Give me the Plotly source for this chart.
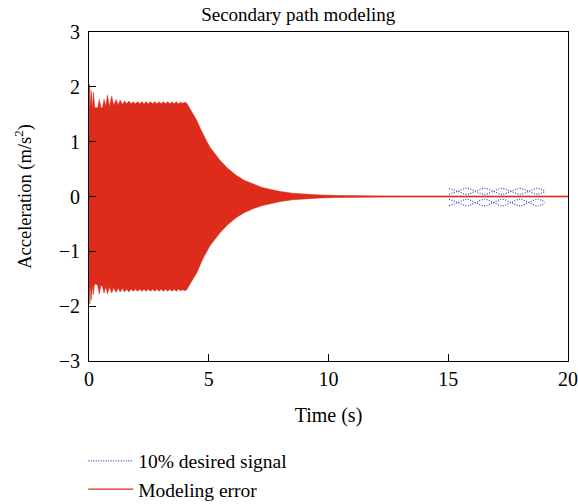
import plotly.graph_objects as go

# ---- Data ----
# Upper envelope of the modeling error (red oscillation)
upper_t = [0.0, 0.02, 0.04, 0.07, 0.10, 0.15, 0.19, 0.24, 0.30, 0.36, 0.43, 0.50, 0.56, 0.63, 0.70,
           0.77, 0.85, 0.95, 1.03, 1.13, 1.22, 1.30, 1.40, 1.48, 1.58, 1.66, 1.76, 1.84, 1.94, 2.02,
           2.12, 2.20, 2.30, 2.38, 2.48, 2.56, 2.66, 2.74, 2.84, 2.92, 3.02, 3.10, 3.20, 3.28, 3.38,
           3.46, 3.56, 3.64, 3.74, 3.82, 3.92, 4.00, 4.08, 4.20, 4.35, 4.50, 4.65, 4.77, 4.90, 5.05,
           5.25, 5.47, 5.80, 6.17, 6.50, 6.87, 7.20, 7.56, 8.00, 8.50, 8.95, 9.50, 10.3, 11.0, 12.0,
           13.0, 20.0]
upper_v = [1.60, 2.05, 1.95, 1.62, 1.93, 1.62, 1.90, 1.62, 1.62, 1.62, 1.77, 1.62, 1.62, 1.77, 1.64,
           1.85, 1.64, 1.83, 1.66, 1.77, 1.67, 1.76, 1.68, 1.74, 1.69, 1.74, 1.69, 1.73, 1.69, 1.73,
           1.69, 1.73, 1.69, 1.73, 1.69, 1.73, 1.69, 1.73, 1.69, 1.73, 1.69, 1.73, 1.69, 1.73, 1.69,
           1.73, 1.69, 1.73, 1.69, 1.72, 1.70, 1.72, 1.70, 1.61, 1.50, 1.39, 1.24, 1.12, 1.02, 0.90,
           0.78, 0.66, 0.51, 0.38, 0.29, 0.22, 0.17, 0.13, 0.09, 0.06, 0.045, 0.03, 0.018, 0.012, 0.006,
           0.004, 0.003]
# Lower envelope
lower_t = [0.0, 0.02, 0.04, 0.07, 0.10, 0.14, 0.18, 0.23, 0.30, 0.36, 0.43, 0.50, 0.56, 0.63, 0.70,
           0.77, 0.85, 0.95, 1.03, 1.13, 1.22, 1.30, 1.40, 1.48, 1.58, 1.66, 1.76, 1.84, 1.94, 2.02,
           2.12, 2.20, 2.30, 2.38, 2.48, 2.56, 2.66, 2.74, 2.84, 2.92, 3.02, 3.10, 3.20, 3.28, 3.38,
           3.46, 3.56, 3.64, 3.74, 3.82, 3.92, 4.00, 4.08, 4.20, 4.35, 4.50, 4.65, 4.77, 4.90, 5.05,
           5.25, 5.47, 5.80, 6.17, 6.50, 6.87, 7.20, 7.56, 8.00, 8.50, 8.95, 9.50, 10.3, 11.0, 12.0,
           13.0, 20.0]
lower_v = [-1.60, -1.90, -1.96, -1.62, -1.88, -1.62, -1.79, -1.60, -1.60, -1.62, -1.78, -1.62, -1.64, -1.76, -1.64,
           -1.78, -1.65, -1.76, -1.66, -1.75, -1.67, -1.74, -1.68, -1.74, -1.69, -1.74, -1.69, -1.73, -1.69, -1.73,
           -1.69, -1.73, -1.69, -1.73, -1.69, -1.73, -1.69, -1.73, -1.69, -1.73, -1.69, -1.73, -1.69, -1.73, -1.69,
           -1.73, -1.69, -1.73, -1.69, -1.72, -1.70, -1.72, -1.70, -1.61, -1.50, -1.39, -1.24, -1.12, -1.02, -0.90,
           -0.78, -0.66, -0.51, -0.38, -0.29, -0.22, -0.17, -0.13, -0.09, -0.06, -0.045, -0.03, -0.018, -0.012, -0.006,
           -0.004, -0.003]

# Modeling error residual line
err_t = [0.0, 20.0]
err_v = [0.0, 0.0]

# 10% desired signal: four crossing curves
des_t = [15.03, 15.40, 15.77, 16.14, 16.51, 16.88, 17.25, 17.62, 17.99, 18.36, 18.73, 19.04]
des_a = [0.15, 0.095, 0.04, 0.095, 0.15, 0.095, 0.04, 0.095, 0.15, 0.095, 0.04, 0.09]
des_b = [0.04, 0.095, 0.15, 0.095, 0.04, 0.095, 0.15, 0.095, 0.04, 0.095, 0.15, 0.10]
des_c = [-0.05, -0.11, -0.17, -0.11, -0.05, -0.11, -0.17, -0.11, -0.05, -0.11, -0.17, -0.12]
des_d = [-0.17, -0.11, -0.05, -0.11, -0.17, -0.11, -0.05, -0.11, -0.17, -0.11, -0.05, -0.10]

x_ticks = [0, 5, 10, 15, 20]
y_ticks = [-3, -2, -1, 0, 1, 2, 3]

RED = "#dd2c1c"
BLUE = "#3c44c6"
FONT = "Liberation Serif"

fig = go.Figure()

# Filled oscillation envelope
fig.add_trace(go.Scatter(
    x=upper_t + lower_t[::-1], y=upper_v + lower_v[::-1],
    fill="toself", fillcolor=RED, mode="lines", line=dict(color=RED, width=0.5),
    showlegend=False, hoverinfo="skip"))

for i, ys in enumerate([des_a, des_b, des_c, des_d]):
    fig.add_trace(go.Scatter(
        x=des_t, y=ys, mode="lines", line=dict(color=BLUE, width=1.2, dash="1px,1.5px", shape="spline"),
        name="10% desired signal", legendgroup="des", showlegend=(i == 0), legendrank=1))

fig.add_trace(go.Scatter(
    x=err_t, y=err_v, mode="lines", line=dict(color=RED, width=1.3),
    name="Modeling error", legendrank=2))

axis_common = dict(showline=True, linecolor="black", linewidth=1, mirror=True, automargin=False,
                   ticks="inside", ticklen=7, tickcolor="black", showgrid=False, zeroline=False,
                   tickfont=dict(family=FONT, size=20, color="black"))

fig.update_layout(
    width=578, height=504,
    margin=dict(l=89, r=10, t=32, b=143, autoexpand=False),
    paper_bgcolor="white", plot_bgcolor="white",
    font=dict(family=FONT, size=17, color="black"),
    title=dict(text="Secondary path modeling", xref="container", x=0.516, xanchor="center",
               y=0.972, yanchor="middle", font=dict(family=FONT, size=19)),
    xaxis=dict(range=[0, 20], tickvals=x_ticks, title=dict(text="Time (s)", standoff=18,
               font=dict(size=20)), **axis_common),
    yaxis=dict(range=[-3, 3], tickvals=y_ticks, ticklabelstandoff=4,
               title=dict(text="Acceleration (m/s<sup>2</sup>)", standoff=22, font=dict(size=18.5)),
               **axis_common),
    legend=dict(x=-0.012, y=-0.245, xanchor="left", yanchor="top", traceorder="normal", itemwidth=45,
                font=dict(family=FONT, size=19.5), bgcolor="rgba(0,0,0,0)", tracegroupgap=0),
)

fig.write_html("out.html")
